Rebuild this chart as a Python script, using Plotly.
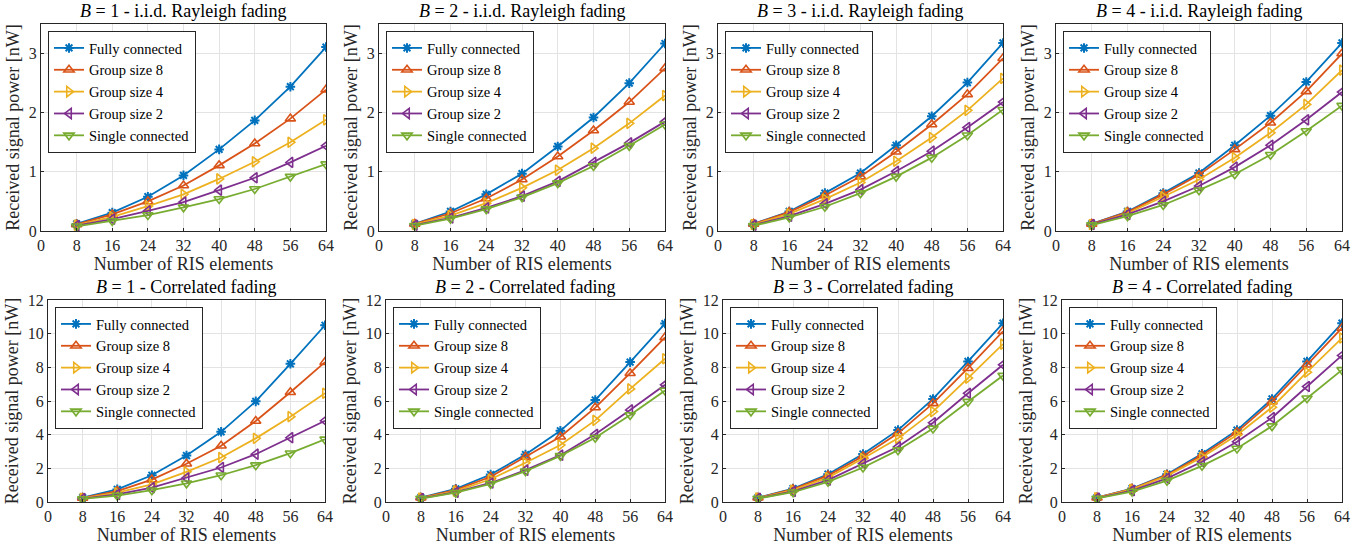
import plotly.graph_objects as go

N = [8, 16, 24, 32, 40, 48, 56, 64]
series_names = ["Fully connected", "Group size 8", "Group size 4", "Group size 2", "Single connected"]
colors = ["#0072BD", "#D95319", "#EDB120", "#7E2F8E", "#77AC30"]
symbols = ["asterisk-open", "triangle-up-open", "triangle-right-open", "triangle-left-open", "triangle-down-open"]

# i.i.d. Rayleigh fading, B = 1..4 (rows: series in legend order)
iid_B1 = [
    [0.12, 0.31, 0.58, 0.94, 1.38, 1.87, 2.44, 3.11],
    [0.11, 0.28, 0.50, 0.77, 1.11, 1.48, 1.90, 2.39],
    [0.10, 0.24, 0.42, 0.62, 0.88, 1.17, 1.50, 1.88],
    [0.09, 0.20, 0.34, 0.49, 0.69, 0.90, 1.16, 1.44],
    [0.08, 0.17, 0.27, 0.40, 0.54, 0.71, 0.92, 1.13],
]
iid_B2 = [
    [0.12, 0.33, 0.62, 0.97, 1.43, 1.92, 2.50, 3.17],
    [0.12, 0.30, 0.55, 0.87, 1.26, 1.70, 2.18, 2.75],
    [0.11, 0.26, 0.47, 0.73, 1.03, 1.40, 1.82, 2.29],
    [0.10, 0.22, 0.39, 0.59, 0.84, 1.16, 1.49, 1.85],
    [0.09, 0.21, 0.37, 0.57, 0.81, 1.10, 1.44, 1.80],
]
iid_B3 = [
    [0.12, 0.33, 0.64, 0.98, 1.45, 1.94, 2.51, 3.18],
    [0.12, 0.32, 0.60, 0.92, 1.34, 1.80, 2.31, 2.92],
    [0.11, 0.29, 0.54, 0.82, 1.18, 1.58, 2.04, 2.58],
    [0.10, 0.25, 0.46, 0.70, 1.01, 1.35, 1.75, 2.18],
    [0.09, 0.23, 0.41, 0.64, 0.92, 1.24, 1.62, 2.05],
]
iid_B4 = [
    [0.12, 0.33, 0.64, 0.98, 1.45, 1.95, 2.52, 3.18],
    [0.12, 0.32, 0.62, 0.95, 1.38, 1.83, 2.36, 3.00],
    [0.11, 0.30, 0.58, 0.87, 1.24, 1.66, 2.14, 2.72],
    [0.11, 0.28, 0.50, 0.76, 1.08, 1.45, 1.88, 2.35],
    [0.10, 0.25, 0.44, 0.69, 0.96, 1.29, 1.69, 2.12],
]
# Correlated fading, B = 1..4
cor_B1 = [
    [0.26, 0.75, 1.59, 2.76, 4.17, 5.98, 8.21, 10.50],
    [0.24, 0.65, 1.33, 2.27, 3.34, 4.81, 6.52, 8.31],
    [0.22, 0.55, 1.05, 1.79, 2.64, 3.78, 5.07, 6.46],
    [0.20, 0.45, 0.85, 1.43, 2.05, 2.84, 3.82, 4.83],
    [0.18, 0.38, 0.70, 1.11, 1.59, 2.19, 2.90, 3.72],
]
cor_B2 = [
    [0.26, 0.78, 1.63, 2.82, 4.23, 6.06, 8.31, 10.60],
    [0.25, 0.72, 1.50, 2.68, 3.88, 5.61, 7.65, 9.78],
    [0.23, 0.65, 1.35, 2.33, 3.38, 4.85, 6.72, 8.51],
    [0.21, 0.58, 1.13, 1.89, 2.78, 4.02, 5.47, 6.96],
    [0.20, 0.55, 1.08, 1.83, 2.74, 3.82, 5.17, 6.62],
]
cor_B3 = [
    [0.26, 0.80, 1.65, 2.85, 4.27, 6.12, 8.35, 10.62],
    [0.25, 0.76, 1.57, 2.72, 4.08, 5.86, 7.95, 10.14],
    [0.24, 0.70, 1.45, 2.58, 3.78, 5.37, 7.36, 9.38],
    [0.22, 0.63, 1.30, 2.29, 3.28, 4.71, 6.46, 8.15],
    [0.21, 0.58, 1.20, 2.05, 3.08, 4.37, 5.96, 7.51],
]
cor_B4 = [
    [0.26, 0.80, 1.65, 2.86, 4.27, 6.12, 8.35, 10.62],
    [0.26, 0.78, 1.60, 2.78, 4.15, 5.96, 8.15, 10.34],
    [0.25, 0.75, 1.55, 2.66, 3.98, 5.63, 7.71, 9.74],
    [0.23, 0.68, 1.40, 2.39, 3.58, 5.01, 6.86, 8.71],
    [0.21, 0.62, 1.27, 2.15, 3.18, 4.51, 6.16, 7.85],
]

panels = [iid_B1, iid_B2, iid_B3, iid_B4, cor_B1, cor_B2, cor_B3, cor_B4]
titles = [
    "<i>B</i> = 1 - i.i.d. Rayleigh fading", "<i>B</i> = 2 - i.i.d. Rayleigh fading",
    "<i>B</i> = 3 - i.i.d. Rayleigh fading", "<i>B</i> = 4 - i.i.d. Rayleigh fading",
    "<i>B</i> = 1 - Correlated fading", "<i>B</i> = 2 - Correlated fading",
    "<i>B</i> = 3 - Correlated fading", "<i>B</i> = 4 - Correlated fading",
]
x_ticks = [0, 8, 16, 24, 32, 40, 48, 56, 64]
y_ticks_top = [0, 1, 2, 3]
y_ticks_bot = [0, 2, 4, 6, 8, 10, 12]

W, H = 1372, 550
FONT = "Liberation Serif"
TXT = "#262626"

# plot-area boxes in pixels (left, right, top, bottom)
boxes = [
    (41, 326, 24, 231), (379, 665, 24, 231), (718, 1003, 24, 231), (1056, 1342, 24, 231),
    (48, 325, 300, 502), (386, 665, 300, 502), (723, 1003, 300, 502), (1062, 1342, 300, 502),
]

fig = go.Figure()
layout = dict(
    width=W, height=H, margin=dict(l=0, r=0, t=0, b=0, autoexpand=False),
    paper_bgcolor="white", plot_bgcolor="white",
    font=dict(family=FONT, size=15, color=TXT), showlegend=True,
)
annotations = []

for i, (data, title, box) in enumerate(zip(panels, titles, boxes)):
    k = i + 1
    xa = "xaxis" if k == 1 else f"xaxis{k}"
    ya = "yaxis" if k == 1 else f"yaxis{k}"
    xr = "x" if k == 1 else f"x{k}"
    yr = "y" if k == 1 else f"y{k}"
    lg = "legend" if k == 1 else f"legend{k}"
    l, r, t, b = box
    xd = [l / W, r / W]
    yd = [1 - b / H, 1 - t / H]
    top = i < 4
    for j in range(5):
        fig.add_trace(go.Scatter(
            x=N, y=data[j], name=series_names[j], mode="lines+markers",
            line=dict(color=colors[j], width=1.8),
            marker=dict(symbol=symbols[j], size=9 if j else 8, color=colors[j],
                        line=dict(color=colors[j], width=1.6 if j else 2.0)),
            xaxis=xr, yaxis=yr, legend=lg,
        ))
    layout[xa] = dict(
        domain=xd, anchor=yr, range=[0, 64], tickvals=x_ticks, automargin=False,
        showgrid=True, gridcolor="#E3E3E3", gridwidth=1,
        showline=True, linecolor=TXT, linewidth=1, mirror=True,
        ticks="inside", ticklen=3, tickcolor=TXT, zeroline=False,
        tickfont=dict(family=FONT, size=16, color=TXT),
        title=dict(text="Number of RIS elements", font=dict(family=FONT, size=18, color=TXT), standoff=4),
    )
    layout[ya] = dict(
        domain=yd, anchor=xr, range=[0, 3.5] if top else [0, 12], automargin=False,
        tickvals=y_ticks_top if top else y_ticks_bot,
        showgrid=True, gridcolor="#E3E3E3", gridwidth=1,
        showline=True, linecolor=TXT, linewidth=1, mirror=True,
        ticks="inside", ticklen=3, tickcolor=TXT, zeroline=False,
        tickfont=dict(family=FONT, size=16, color=TXT),
        title=dict(text="Received signal power [nW]", font=dict(family=FONT, size=18, color=TXT), standoff=4),
    )
    layout[lg] = dict(
        x=(l + 7) / W, y=1 - (t + 7) / H, xanchor="left", yanchor="top",
        bgcolor="white", bordercolor=TXT, borderwidth=1,
        font=dict(family=FONT, size=14.5, color="black"),
        tracegroupgap=0, itemwidth=30,
    )
    annotations.append(dict(
        text=title, x=(l + r) / 2 / W, y=1 - (t - 13) / H, xref="paper", yref="paper",
        xanchor="center", yanchor="middle", showarrow=False,
        font=dict(family=FONT, size=18, color="black"),
    ))

layout["annotations"] = annotations
fig.update_layout(**layout)
fig.write_html("out.html", config={"displayModeBar": False},
               post_script="document.body.style.margin='0';")
